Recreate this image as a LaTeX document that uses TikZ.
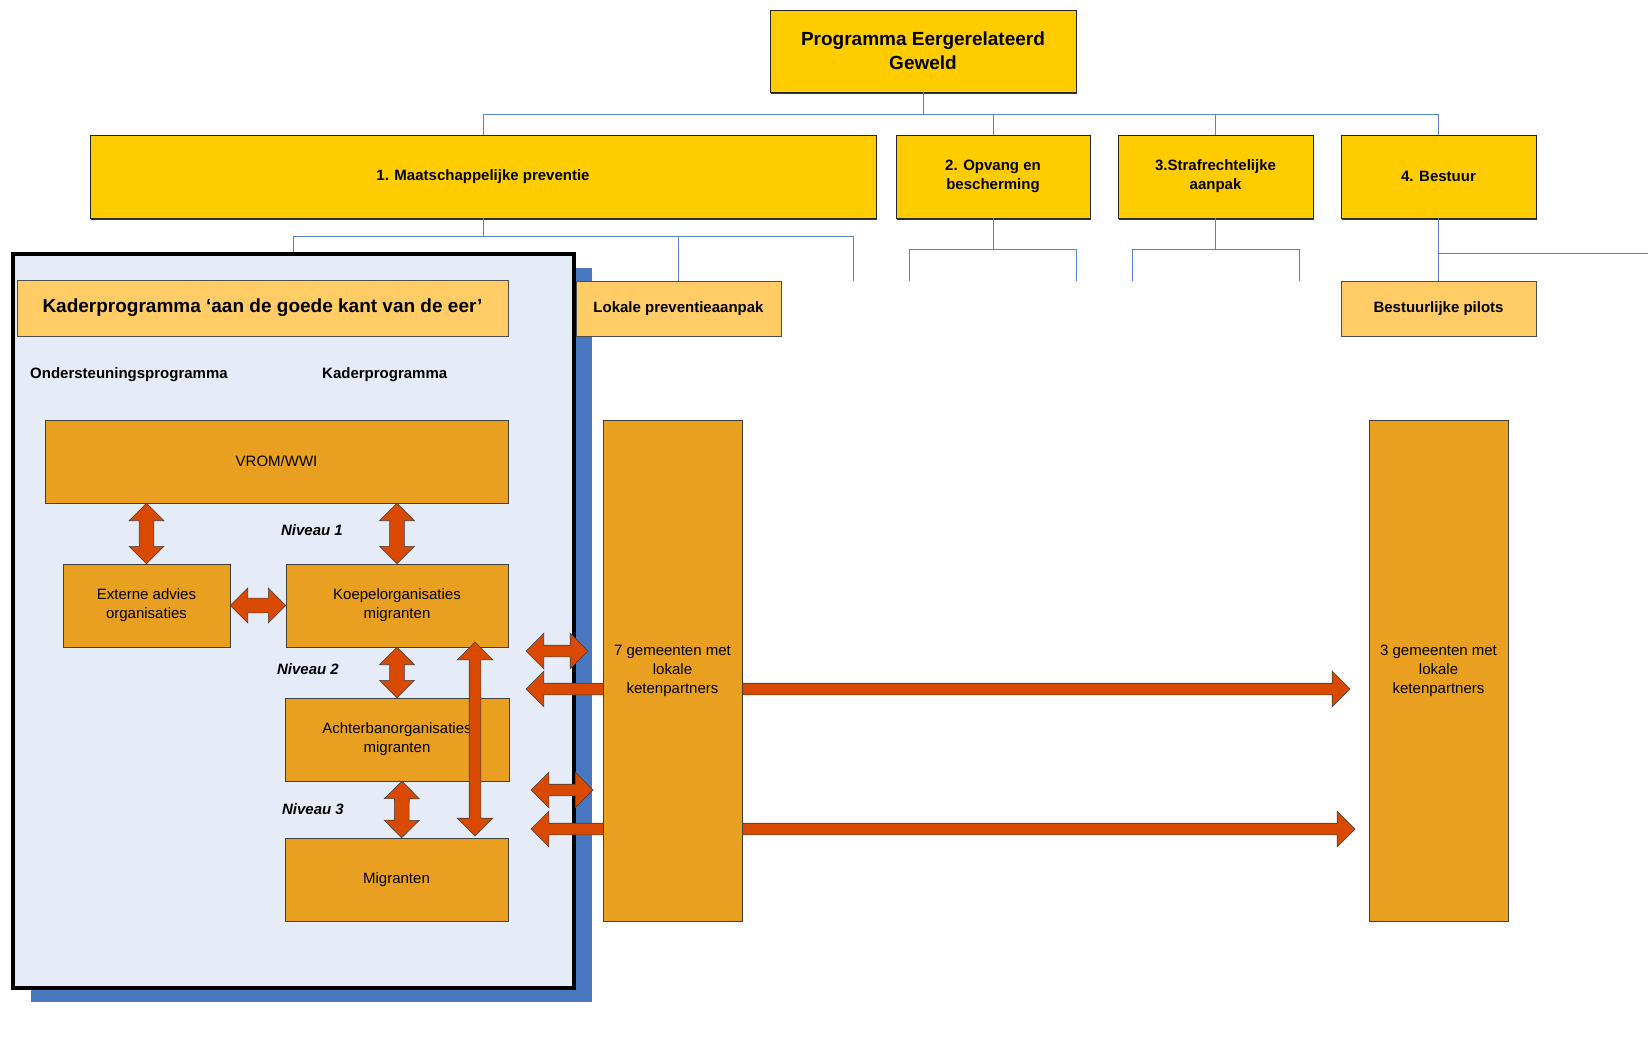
\documentclass[tikz,border=0pt]{standalone}
\usepackage{fontspec}
\setmainfont{Liberation Sans}
\usepackage{tikz}
\usetikzlibrary{positioning, calc, shapes.arrows, shadows}

\definecolor{goldfill}{HTML}{FFCC00}
\definecolor{paleorange}{HTML}{FFCC66}
\definecolor{orgorange}{HTML}{E9A021}
\definecolor{arrowred}{HTML}{D94A00}
\definecolor{framefill}{HTML}{E6ECF7}
\definecolor{shadeblue}{HTML}{4A78C0}
\definecolor{treeblue}{HTML}{5584C8}

\newcommand{\bigtext}{\fontsize{19}{24}\selectfont\bfseries}
\newcommand{\midtext}{\fontsize{15}{19}\selectfont\bfseries}
\newcommand{\plaintext}{\fontsize{15}{19}\selectfont}

\tikzstyle{pillar} = [rectangle, draw=black!85, fill=goldfill, align=center, general shadow={fill=black!80, shadow xshift=1pt, shadow yshift=-2pt}]
\tikzstyle{subprog} = [rectangle, draw=black!70, fill=paleorange, align=center, font=\midtext]
\tikzstyle{orgbox} = [rectangle, draw=black!75, fill=orgorange, align=center, font=\plaintext]
\tikzstyle{tree} = [draw=treeblue, line width=1pt]
\tikzstyle{twoway} = [double arrow, draw=black!75, fill=arrowred, line width=0.6pt, inner xsep=0pt, inner ysep=7pt, minimum width=35pt, double arrow head extend=10pt, double arrow tip angle=90]
\tikzstyle{longway} = [twoway, inner ysep=5.5pt, double arrow head extend=12pt]

% block arrow between two points: style, from, to
\newcommand{\blockarrow}[3]{%
  \path let \p1=(#2), \p2=(#3), \n1={veclen(\x2-\x1,\y2-\y1)}, \n2={atan2(\y2-\y1,\x2-\x1)} in
    node[#1, minimum height=\n1, rotate=\n2] at ($(\p1)!0.5!(\p2)$) {};}

\begin{document}
\begin{tikzpicture}[x=1pt, y=-1pt]
\useasboundingbox (0,0) rectangle (1648,1054);

% programme and its four lines
\node (programma) [pillar, font=\bigtext, minimum width=306, minimum height=82] at (923,51) {Programma Eergerelateerd\\Geweld};
\node (preventie) [pillar, font=\midtext, minimum width=786, minimum height=83] at (483,176.5) {1. Maatschappelijke preventie};
\node (opvang) [pillar, font=\midtext, minimum width=194, minimum height=83] at (993,176.5) {2. Opvang en\\bescherming};
\node (strafrecht) [pillar, font=\midtext, minimum width=195, minimum height=83] at (1215.5,176.5) {3.Strafrechtelijke\\aanpak};
\node (bestuur) [pillar, font=\midtext, minimum width=195, minimum height=83] at (1438.5,176.5) {4. Bestuur};

% kaderprogramma frame
\node (kader_frame) [rectangle, draw=black, line width=4pt, fill=framefill, minimum width=561, minimum height=734, general shadow={fill=shadeblue, shadow xshift=18pt, shadow yshift=-14pt}] at (293.5,621) {};

\node (kader_title) [subprog, font=\bigtext, minimum width=491, minimum height=56] at (262.5,308) {Kaderprogramma ‘aan de goede kant van de eer’};
\node (lokale) [subprog, minimum width=205, minimum height=55] at (678.5,308.5) {Lokale preventieaanpak};
\node (pilots) [subprog, minimum width=195, minimum height=55] at (1438.5,308.5) {Bestuurlijke pilots};

\node (ondersteuning) [anchor=west, inner sep=0pt, font=\midtext] at (30,375) {Ondersteuningsprogramma};
\node (kader_head) [anchor=west, inner sep=0pt, font=\midtext] at (322,375) {Kaderprogramma};

\node (vrom) [orgbox, minimum width=463, minimum height=83] at (276.5,461.5) {VROM/WWI};
\node (externe) [orgbox, minimum width=167, minimum height=83] at (146.5,605.5) {Externe advies\\organisaties};
\node (koepel) [orgbox, minimum width=222, minimum height=83] at (397,605.5) {Koepelorganisaties\\migranten};
\node (achterban) [orgbox, minimum width=224, minimum height=83] at (397,739.5) {Achterbanorganisaties\\migranten};
\node (migranten) [orgbox, minimum width=223, minimum height=83] at (396.5,879.5) {Migranten};

\node (niveau1) [font=\midtext\itshape] at (312,530) {Niveau 1};
\node (niveau2) [font=\midtext\itshape] at (308,669) {Niveau 2};
\node (niveau3) [font=\midtext\itshape] at (313,809) {Niveau 3};

% tree lines
\coordinate (top_bus) at (923,115);
\foreach \n in {preventie, opvang, strafrecht, bestuur}
  \draw [tree] (programma.south) -- (top_bus) -| (\n.north);

\coordinate (prev_bus) at (483,236);
\coordinate (prev_end) at (853,281);
\draw [tree] (preventie.south) -- (prev_bus) -| (kader_frame.north);
\draw [tree] (prev_bus) -| (lokale.north);
\draw [tree] (prev_bus) -| (prev_end);

\coordinate (opv_bus) at (993,249);
\coordinate (opv_end_l) at (909,281);
\coordinate (opv_end_r) at (1076,281);
\draw [tree] (opvang.south) -- (opv_bus) -| (opv_end_l);
\draw [tree] (opv_bus) -| (opv_end_r);

\coordinate (straf_bus) at (1215.5,249);
\coordinate (straf_end_l) at (1132,281);
\coordinate (straf_end_r) at (1299,281);
\draw [tree] (strafrecht.south) -- (straf_bus) -| (straf_end_l);
\draw [tree] (straf_bus) -| (straf_end_r);

\coordinate (best_branch) at (1438.5,253);
\coordinate (best_end) at (1648,253);
\draw [tree] (bestuur.south) -- (pilots.north);
\draw [tree] (best_branch) -- (best_end);

% block arrows
\coordinate (long_top) at (475,642);
\coordinate (long_bot) at (475,836);
\coordinate (link1_w) at (526,651);
\coordinate (link1_e) at (588,651);
\coordinate (lane1_w) at (526,689);
\coordinate (lane1_e) at (1350,689);
\coordinate (link2_w) at (531,790);
\coordinate (link2_e) at (593,790);
\coordinate (lane2_w) at (531,829);
\coordinate (lane2_e) at (1355,829);

\blockarrow{twoway}{externe.north}{externe.north |- vrom.south}
\blockarrow{twoway}{koepel.north}{koepel.north |- vrom.south}
\blockarrow{twoway}{externe.east}{koepel.west}
\blockarrow{twoway}{koepel.south}{achterban.north}
\blockarrow{twoway}{$(achterban.south)+(5,0)$}{$(migranten.north)+(5,0)$}
\blockarrow{longway}{long_top}{long_bot}
\blockarrow{longway}{link1_w}{link1_e}
\blockarrow{longway}{lane1_w}{lane1_e}
\blockarrow{longway}{link2_w}{link2_e}
\blockarrow{longway}{lane2_w}{lane2_e}

% municipalities
\node (gemeenten7) [orgbox, minimum width=139, minimum height=501] at (672.5,670.5) {7 gemeenten met\\lokale\\ketenpartners};
\node (gemeenten3) [orgbox, minimum width=139, minimum height=501] at (1438.5,670.5) {3 gemeenten met\\lokale\\ketenpartners};

\end{tikzpicture}
\end{document}
